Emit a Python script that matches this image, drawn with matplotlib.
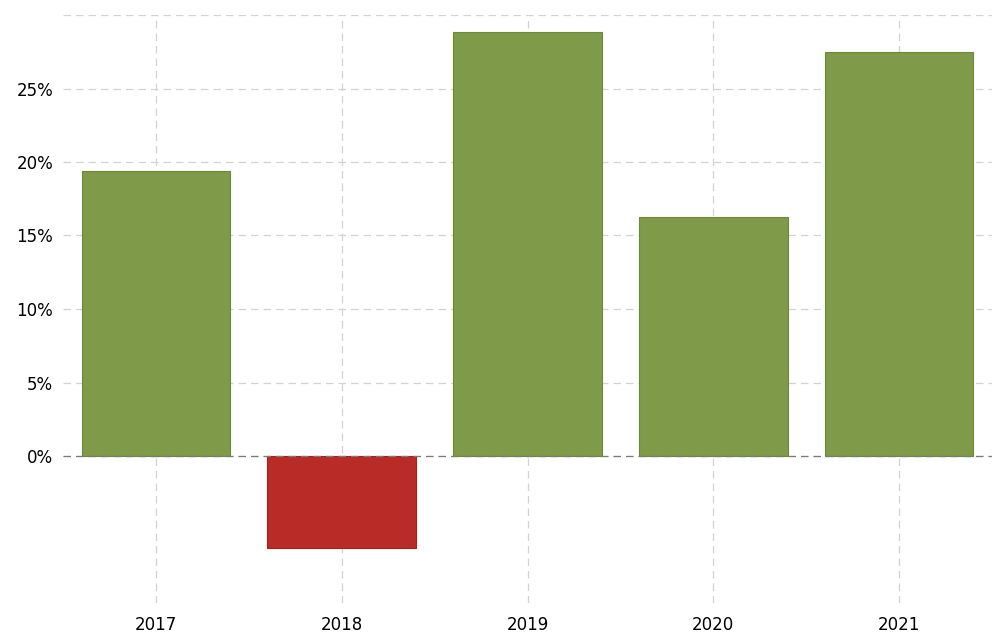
import matplotlib.pyplot as plt

years = ["2017", "2018", "2019", "2020", "2021"]
values = [19.4, -6.25, 28.85, 16.25, 27.5]
ytick_vals = [0, 5, 10, 15, 20, 25, 30]
ytick_labels = ["0%", "5%", "10%", "15%", "20%", "25%", ""]

green, green_edge = "#7f9a48", "#6c8a36"
red, red_edge = "#b92b27", "#a8201c"

fig = plt.figure(figsize=(10, 6.36), dpi=100)
ax = fig.add_axes([0.063, 1 - 603 / 636, 0.929, (603 - 15) / 636])

x = list(range(len(years)))
colors = [green if v >= 0 else red for v in values]
edges = [green_edge if v >= 0 else red_edge for v in values]
ax.bar(x, values, width=0.8, color=colors, edgecolor=edges, linewidth=0.8, zorder=2)

ax.set_xlim(-0.5, len(years) - 0.5)
ax.set_ylim(-10, 30)
ax.set_xticks(x)
ax.set_xticklabels(years)
ax.set_yticks(ytick_vals)
ax.set_yticklabels(ytick_labels)

ax.grid(True, color="#d3d3d3", linestyle=(0, (6, 4)), linewidth=0.9, zorder=0)
ax.axhline(0, color="#7a7a7a", linestyle=(0, (6, 4)), linewidth=0.9, zorder=3)

for s in ax.spines.values():
    s.set_visible(False)
ax.tick_params(length=0, labelsize=12, colors="black")
ax.tick_params(axis="y", pad=7)
ax.tick_params(axis="x", pad=9)

fig.savefig("out.png", dpi=100)
